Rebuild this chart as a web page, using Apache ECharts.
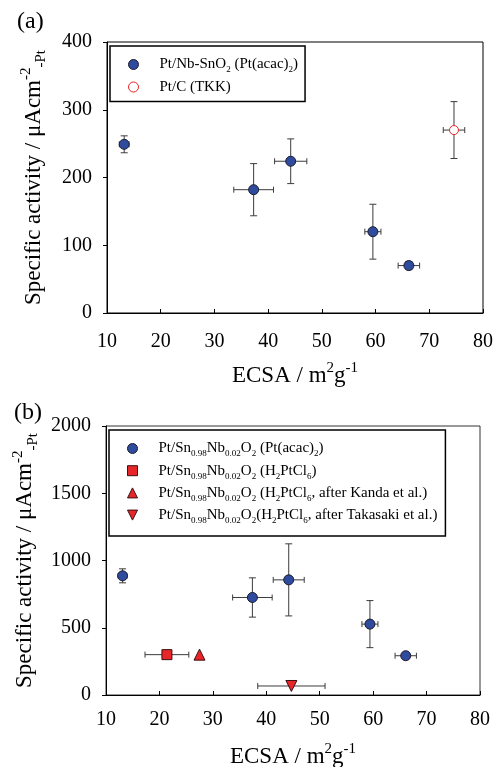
<!DOCTYPE html>
<html><head><meta charset="utf-8">
<script src="https://cdn.jsdelivr.net/npm/echarts@6/dist/echarts.min.js"></script>
<style>html,body{margin:0;padding:0;background:#fff}#c{width:494px;height:767px}</style>
</head><body><div id="c"></div>
<script>
const FONT = "'Liberation Serif','Times New Roman',serif";

// ---- Panel (a) data ----
const aAcacX = [13.2, 37.3, 44.2, 59.5, 66.2];
const aAcacY = [249, 182, 224, 120, 70];
const aAcacXErr = [0.9, 3.7, 3.0, 1.5, 2.0];
const aAcacYErr = [12.5, 38.5, 33, 40.5, 6];
const aTkkX = [74.6];
const aTkkY = [270];
const aTkkXErr = [2.0];
const aTkkYErr = [42];

// ---- Panel (b) data ----
const bAcacX = [13.1, 37.4, 44.2, 59.4, 66.1];
const bAcacY = [886, 725, 856, 527, 292];
const bAcacXErr = [0.8, 3.7, 2.9, 1.5, 2.0];
const bAcacYErr = [52, 146, 268, 175, 20];
const bClX = [21.4];
const bClY = [300];
const bClXErr = [4.1];
const bClYErr = [15];
const bKandaX = [27.5];
const bKandaY = [300];
const bTakasakiX = [44.7];
const bTakasakiY = [67];
const bTakasakiXErr = [6.3];
const bTakasakiYErr = [0];

// ---- axes ----
const xMin = 10, xMax = 80, xStep = 10;
const aYMin = 0, aYMax = 400, aYStep = 100;
const bYMin = 0, bYMax = 2000, bYStep = 500;

const legendLabels = {
  aAcac: '{t|Pt/Nb-SnO}{s|2}{t| (Pt(acac)}{s|2}{t|)}',
  aTkk: '{t|Pt/C (TKK)}',
  bAcac: '{t|Pt/Sn}{s|0.98}{t|Nb}{s|0.02}{t|O}{s|2}{t| (Pt(acac)}{s|2}{t|)}',
  bCl: '{t|Pt/Sn}{s|0.98}{t|Nb}{s|0.02}{t|O}{s|2}{t| (H}{s|2}{t|PtCl}{s|6}{t|)}',
  bKanda: '{t|Pt/Sn}{s|0.98}{t|Nb}{s|0.02}{t|O}{s|2}{t| (H}{s|2}{t|PtCl}{s|6}{t|, after Kanda et al.)}',
  bTakasaki: '{t|Pt/Sn}{s|0.98}{t|Nb}{s|0.02}{t|O}{s|2}{t|(H}{s|2}{t|PtCl}{s|6}{t|, after Takasaki et al.)}'
};

const BLUE = '#2f4b9e';
const RED = '#e8262a';

function pairs(xs, ys) { return xs.map((x, i) => [x, ys[i]]); }

function errSeries(xs, ys, xe, ye, idx) {
  return {
    type: 'custom', xAxisIndex: idx, yAxisIndex: idx, z: 1, silent: true,
    data: xs.map((x, i) => [x, ys[i], xe[i], ye[i]]),
    encode: { x: 0, y: 1 },
    renderItem(params, api) {
      const x = api.value(0), y = api.value(1), dx = api.value(2), dy = api.value(3);
      const st = { stroke: '#3c3c3c', lineWidth: 1 };
      const ch = [];
      if (dx > 0) {
        const l = api.coord([x - dx, y]), r = api.coord([x + dx, y]);
        ch.push({ type: 'line', shape: { x1: l[0], y1: l[1], x2: r[0], y2: r[1] }, style: st });
        ch.push({ type: 'line', shape: { x1: l[0], y1: l[1] - 3, x2: l[0], y2: l[1] + 3 }, style: st });
        ch.push({ type: 'line', shape: { x1: r[0], y1: r[1] - 3, x2: r[0], y2: r[1] + 3 }, style: st });
      }
      if (dy > 0) {
        const t = api.coord([x, y + dy]), b = api.coord([x, y - dy]);
        ch.push({ type: 'line', shape: { x1: t[0], y1: t[1], x2: b[0], y2: b[1] }, style: st });
        ch.push({ type: 'line', shape: { x1: t[0] - 3.5, y1: t[1], x2: t[0] + 3.5, y2: t[1] }, style: st });
        ch.push({ type: 'line', shape: { x1: b[0] - 3.5, y1: b[1], x2: b[0] + 3.5, y2: b[1] }, style: st });
      }
      return { type: 'group', children: ch };
    }
  };
}

const nameRich = {
  m: { fontFamily: FONT, fontSize: 23, lineHeight: 30, color: '#000' },
  sup: { fontFamily: FONT, fontSize: 15, lineHeight: 15, verticalAlign: 'top', color: '#000' },
  sub: { fontFamily: FONT, fontSize: 15, lineHeight: 15, verticalAlign: 'bottom', color: '#000' }
};
const legRich = {
  t: { fontFamily: FONT, fontSize: 15, lineHeight: 20, color: '#000' },
  s: { fontFamily: FONT, fontSize: 9, lineHeight: 9, verticalAlign: 'bottom', color: '#000' }
};

function xAxisCfg(idx, margin, gap) {
  return {
    type: 'value', gridIndex: idx, min: xMin, max: xMax, interval: xStep,
    name: '{m|ECSA / m}{sup|2}{m|g}{sup|-1}', nameLocation: 'middle', nameGap: gap,
    nameTextStyle: { fontFamily: FONT, fontSize: 23, color: '#000', rich: nameRich },
    axisLine: { onZero: false, lineStyle: { color: '#000', width: 1 } },
    axisTick: { inside: true, length: 4, lineStyle: { color: '#000' } },
    axisLabel: { fontFamily: FONT, fontSize: 20, color: '#000', margin: margin },
    splitLine: { show: false }
  };
}
function yAxisCfg(idx, mn, mx, st) {
  return {
    type: 'value', gridIndex: idx, min: mn, max: mx, interval: st,
    name: '{m|Specific activity / μAcm}{sup|-2}{sub|-Pt}', nameLocation: 'middle', nameGap: 58, nameRotate: 90,
    nameTextStyle: { fontFamily: FONT, fontSize: 23, color: '#000', rich: nameRich },
    axisLine: { onZero: false, lineStyle: { color: '#000', width: 1 } },
    axisTick: { inside: false, length: 4, lineStyle: { color: '#000' } },
    axisLabel: { fontFamily: FONT, fontSize: 20, color: '#000', margin: 15, formatter: v => String(v) },
    splitLine: { show: false }
  };
}
function legendCfg(names, left, top, padding, gap) {
  return {
    data: names, orient: 'vertical', left: left, top: top, padding: padding,
    itemWidth: 10, itemHeight: 10, itemGap: gap,
    borderColor: '#000', borderWidth: 1.5, borderRadius: 0, backgroundColor: '#fff',
    selectedMode: false,
    itemStyle: { borderWidth: 1 },
    textStyle: { fontFamily: FONT, fontSize: 15, color: '#000', padding: [0, 0, 0, 16], rich: legRich },
    formatter: n => legendLabels[n]
  };
}

const option = {
  animation: false,
  backgroundColor: '#fff',
  title: [
    { text: '(a)', left: 12, top: 5, textStyle: { fontFamily: FONT, fontSize: 24, fontWeight: 'normal', color: '#000' } },
    { text: '(b)', left: 9, top: 396, textStyle: { fontFamily: FONT, fontSize: 24, fontWeight: 'normal', color: '#000' } }
  ],
  grid: [
    { left: 107, top: 42, width: 376, height: 271, show: true, borderColor: '#000', borderWidth: 1, backgroundColor: 'transparent', containLabel: false, outerBoundsMode: 'none' },
    { left: 106, top: 426, width: 374, height: 269, show: true, borderColor: '#333', borderWidth: 1, backgroundColor: 'transparent', containLabel: false, outerBoundsMode: 'none' }
  ],
  xAxis: [xAxisCfg(0, 19, 48), xAxisCfg(1, 15, 47)],
  yAxis: [yAxisCfg(0, aYMin, aYMax, aYStep), yAxisCfg(1, bYMin, bYMax, bYStep)],
  legend: [
    legendCfg(['aAcac', 'aTkk'], 110, 46, [11, 7, 7, 18], 5),
    legendCfg(['bAcac', 'bCl', 'bKanda', 'bTakasaki'], 109, 430, [11, 8, 11, 18], 4.7)
  ],
  series: [
    errSeries(aAcacX, aAcacY, aAcacXErr, aAcacYErr, 0),
    errSeries(aTkkX, aTkkY, aTkkXErr, aTkkYErr, 0),
    errSeries(bAcacX, bAcacY, bAcacXErr, bAcacYErr, 1),
    errSeries(bClX, bClY, bClXErr, bClYErr, 1),
    errSeries(bTakasakiX, bTakasakiY, bTakasakiXErr, bTakasakiYErr, 1),
    { name: 'aAcac', type: 'scatter', xAxisIndex: 0, yAxisIndex: 0, z: 3, symbol: 'circle', symbolSize: 10,
      itemStyle: { color: BLUE, borderColor: '#1c1c2c', borderWidth: 1, opacity: 1 }, data: pairs(aAcacX, aAcacY) },
    { name: 'aTkk', type: 'scatter', xAxisIndex: 0, yAxisIndex: 0, z: 3, symbol: 'circle', symbolSize: 9,
      itemStyle: { color: '#fff', borderColor: RED, borderWidth: 1, opacity: 1 }, data: pairs(aTkkX, aTkkY) },
    { name: 'bAcac', type: 'scatter', xAxisIndex: 1, yAxisIndex: 1, z: 3, symbol: 'circle', symbolSize: 10,
      itemStyle: { color: BLUE, borderColor: '#1c1c2c', borderWidth: 1, opacity: 1 }, data: pairs(bAcacX, bAcacY) },
    { name: 'bCl', type: 'scatter', xAxisIndex: 1, yAxisIndex: 1, z: 3, symbol: 'rect', symbolSize: 10,
      itemStyle: { color: RED, borderColor: '#3a1010', borderWidth: 1, opacity: 1 }, data: pairs(bClX, bClY) },
    { name: 'bKanda', type: 'scatter', xAxisIndex: 1, yAxisIndex: 1, z: 3, symbol: 'triangle', symbolSize: 11,
      itemStyle: { color: RED, borderColor: '#3a1010', borderWidth: 1, opacity: 1 }, data: pairs(bKandaX, bKandaY) },
    { name: 'bTakasaki', type: 'scatter', xAxisIndex: 1, yAxisIndex: 1, z: 3, symbol: 'path://M0,0L10,0L5,10Z', symbolSize: 11,
      itemStyle: { color: RED, borderColor: '#3a1010', borderWidth: 1, opacity: 1 }, data: pairs(bTakasakiX, bTakasakiY) }
  ]
};

const chart = echarts.init(document.getElementById('c'), null, { renderer: 'canvas' });
chart.setOption(option);
</script>
</body></html>
